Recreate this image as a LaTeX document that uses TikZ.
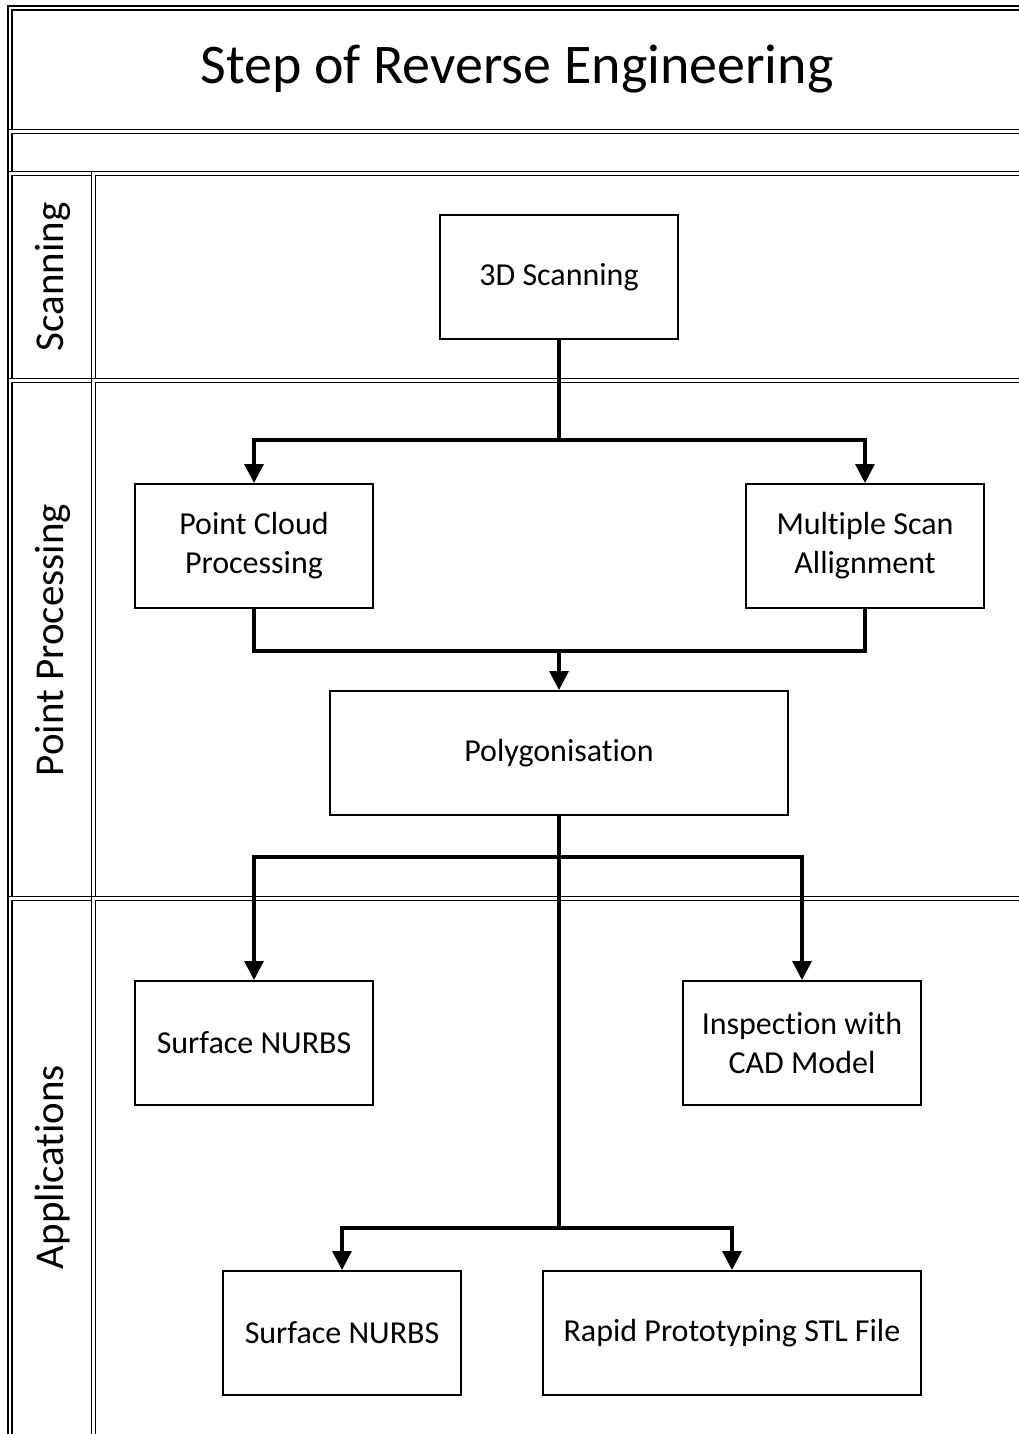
\documentclass[tikz,border=0pt]{standalone}
\usepackage{fontspec}
\setmainfont{Carlito}[Ligatures={NoCommon,NoContextual}]
\usetikzlibrary{arrows.meta}
\begin{document}
\begin{tikzpicture}[x=1pt,y=-1pt]

\def\boxw{238pt}
\def\boxh{124pt}
\def\rgt{1030}
\def\bot{1450}

\tikzset{lane/.style = {draw, double, double distance=2.2pt, line width=1.7pt}}
\tikzset{stepbox/.style = {draw, line width=2pt, minimum width=\boxw, minimum height=\boxh, inner sep=0pt, align=center, font=\fontsize{32}{39}\selectfont}}
\tikzset{lanelabel/.style = {rotate=90, font=\fontsize{41}{48}\selectfont}}
\tikzset{link/.style = {line width=3.3pt, line cap=rect}}
\tikzset{arr/.style = {link, -{Triangle[length=19pt,width=19pt]}}}

\useasboundingbox (0,0) rectangle (1019,1434);
\clip (0,0) rectangle (1019,1434);

% pool and lanes
\draw[lane] (10,8) rectangle (\rgt,131.5);
\draw[lane] (10,131.5) rectangle (\rgt,173.5);
\draw[lane] (10,173.5) rectangle (93.5,380.5);
\draw[lane] (93.5,173.5) rectangle (\rgt,380.5);
\draw[lane] (10,380.5) rectangle (93.5,898.5);
\draw[lane] (93.5,380.5) rectangle (\rgt,898.5);
\draw[lane] (10,898.5) rectangle (93.5,\bot);
\draw[lane] (93.5,898.5) rectangle (\rgt,\bot);

\node[font=\fontsize{56}{66}\selectfont] (title) at (517,69) {Step of Reverse Engineering};

\node[lanelabel] (lscan) at (53,277) {Scanning};
\node[lanelabel] (lproc) at (53,640) {Point Processing};
\node[lanelabel] (lapp) at (53,1167) {Applications};

% steps
\node[stepbox] (scan) at (559,277) {3D Scanning};
\node[stepbox] (pcp) at (254,546) {Point Cloud\\Processing};
\node[stepbox] (msa) at (865,546) {Multiple Scan\\Allignment};
\node[stepbox, minimum width=458pt] (poly) at (559,753) {Polygonisation};
\node[stepbox] (nurbsa) at (254,1043) {Surface NURBS};
\node[stepbox] (insp) at (802,1043) {Inspection with\\CAD Model};
\node[stepbox] (nurbsb) at (342,1333) {Surface NURBS};
\node[stepbox, minimum width=378pt] (rapid) at (732,1333) {Rapid Prototyping STL File};

% connectors
\coordinate (J1) at (559,440);
\coordinate (J2) at (559,651);
\coordinate (J3) at (559,857);
\coordinate (J4) at (559,1228);

\draw[link] (scan.south) -- (J1);
\draw[arr] (J1) -| (pcp.north);
\draw[arr] (J1) -| (msa.north);

\draw[link] (pcp.south) |- (J2) -| (msa.south);
\draw[arr] (J2) -- (poly.north);

\draw[link] (poly.south) -- (J3);
\draw[arr] (J3) -| (nurbsa.north);
\draw[arr] (J3) -| (insp.north);
\draw[link] (J3) -- (J4);
\draw[arr] (J4) -| (nurbsb.north);
\draw[arr] (J4) -| (rapid.north);

\end{tikzpicture}
\end{document}
